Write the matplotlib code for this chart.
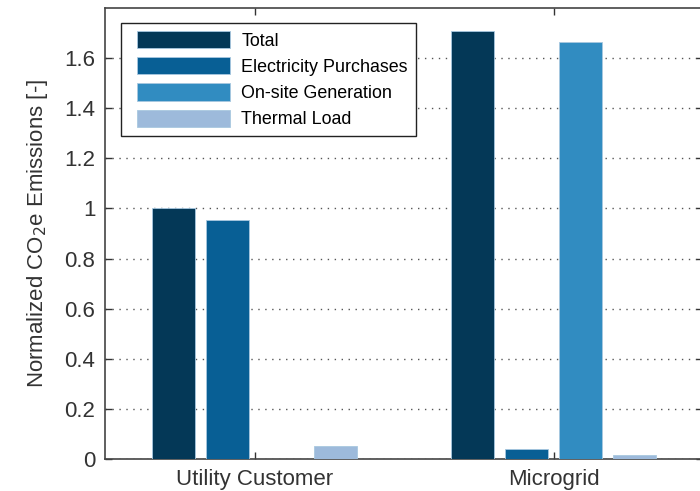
import numpy as np
import matplotlib.pyplot as plt
from matplotlib.container import BarContainer
from matplotlib.legend_handler import HandlerPatch, update_from_first_child

plt.rcParams['font.family'] = ['Liberation Sans', 'DejaVu Sans']

groups = ['Utility Customer', 'Microgrid']
series = ['Total', 'Electricity Purchases', 'On-site Generation', 'Thermal Load']
total = [1.0, 1.71]
electricity = [0.955, 0.04]
onsite = [0.0, 1.665]
thermal = [0.05, 0.015]
colors = ['#043857', '#085f95', '#318cc1', '#9dbadb']

fig = plt.figure(figsize=(7.0, 4.91), dpi=100)
ax = fig.add_axes([105 / 700, 32 / 491, 598 / 700, 451 / 491])

x = np.arange(1, len(groups) + 1)
step = 0.18
width = 0.145
for i, (vals, name) in enumerate(zip([total, electricity, onsite, thermal], series)):
    ax.bar(x + (i - 1.5) * step, vals, width, color=colors[i], label=name,
           edgecolor='#a8c8e0', linewidth=0.6, zorder=3)

ax.set_xlim(0.5, 2.5)
ax.set_ylim(0, 1.8)
ax.set_xticks(x)
ax.set_xticklabels(groups, fontsize=16)
yt = np.arange(0, 1.61, 0.2)
ax.set_yticks(yt)
ax.set_yticklabels(['%g' % round(v, 1) for v in yt], fontsize=16)
ax.tick_params(direction='in', top=True, right=True, length=5, width=1,
               colors='#333333', labelcolor='#333333')
ax.tick_params(axis='x', pad=7)
ax.tick_params(axis='y', pad=7)
ax.yaxis.grid(True, linestyle=(0, (1, 4)), color='#555555', linewidth=1.0)
for s in ax.spines.values():
    s.set_color('#444444')
    s.set_linewidth(1.2)

ax.set_ylabel('Normalized CO$_2$e Emissions [-]', fontsize=16, color='#333333', labelpad=10)

# indent the colour swatches a little from the legend frame
swatch = HandlerPatch(xpad=0.45, update_func=update_from_first_child)
leg = ax.legend(loc='upper left', bbox_to_anchor=(0.027, 0.967), fontsize=12.9,
                handlelength=5.65, handleheight=1.1, labelspacing=0.42,
                fancybox=False, framealpha=1, edgecolor='#222222',
                borderpad=0.45, handletextpad=0.6, borderaxespad=0,
                handler_map={BarContainer: swatch})
leg.get_frame().set_linewidth(1.0)

fig.savefig('out.png', dpi=100)
